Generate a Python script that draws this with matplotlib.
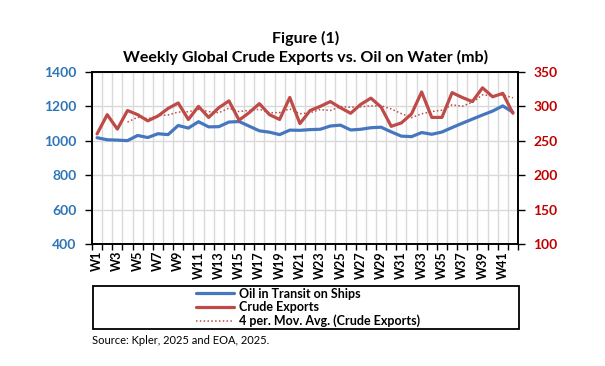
import numpy as np
import pandas as pd
import matplotlib
matplotlib.use('Agg')
import matplotlib.pyplot as plt
from matplotlib.patches import Rectangle
from matplotlib.ticker import FixedLocator, NullFormatter

plt.rcParams['font.family'] = ['Lato', 'DejaVu Sans']

# Data (W1..W42)
weeks = [f"W{i}" for i in range(1, 43)]
oil_in_transit = [1018, 1006, 1004, 1001, 1031, 1019, 1041, 1036, 1089, 1074,
                  1111, 1081, 1082, 1109, 1112, 1085, 1058, 1050, 1036, 1062,
                  1061, 1065, 1067, 1086, 1091, 1063, 1067, 1076, 1079, 1052,
                  1027, 1024, 1048, 1038, 1051, 1077, 1102, 1126, 1150, 1173,
                  1203, 1166]
crude_exports = [260, 288, 267, 294, 288, 279, 286, 297, 305, 281,
                 300, 284, 298, 308, 280, 291, 304, 288, 281, 313,
                 275, 294, 300, 307, 298, 290, 303, 312, 299, 271,
                 276, 289, 321, 284, 284, 320, 313, 307, 327, 314,
                 319, 290]
left_ticks = [400, 600, 800, 1000, 1200, 1400]
right_ticks = [100, 150, 200, 250, 300, 350]

BLUE = '#4677BE'
RED = '#BE4B48'
BLUE_TXT = '#2E75B6'
RED_TXT = '#C00000'

fig = plt.figure(figsize=(6.05, 3.66), dpi=100)
ax = fig.add_axes([92 / 605, 1 - 244 / 366, 426 / 605, 172 / 366])
ax2 = ax.twinx()

x = np.arange(len(weeks))
mov_avg = pd.Series(crude_exports).rolling(4).mean()

l1, = ax.plot(x, oil_in_transit, color=BLUE, lw=2.3, solid_capstyle='round', zorder=3)
l2, = ax2.plot(x, crude_exports, color=RED, lw=2.3, solid_capstyle='round', zorder=3)
l3, = ax2.plot(x, mov_avg, color=RED, lw=1.1, ls=(0, (1, 1.5)), zorder=2)

ax.set_xlim(-0.5, len(weeks) - 0.5)
ax.set_ylim(400, 1400)
ax2.set_ylim(100, 350)
ax.set_yticks(left_ticks)
ax2.set_yticks(right_ticks)

# labels at category centres, tick marks and grid at category boundaries
ax.xaxis.set_major_locator(FixedLocator(x[::2]))
ax.set_xticklabels(weeks[::2], rotation=90, fontsize=9, fontweight='bold')
ax.xaxis.set_minor_locator(FixedLocator(np.arange(-0.5, len(weeks), 1)))
ax.xaxis.set_minor_formatter(NullFormatter())
ax.tick_params(axis='x', which='major', length=0, pad=5)
ax.tick_params(axis='x', which='minor', length=4, width=1, color='black')
ax.grid(axis='x', which='minor', color='#D9D9D9', lw=1)
ax.grid(axis='y', which='major', color='#D9D9D9', lw=1)
ax.set_axisbelow(True)

ax.tick_params(axis='y', length=5, width=1, pad=6, labelsize=10, labelcolor=BLUE_TXT)
ax2.tick_params(axis='y', length=5, width=1, pad=6, labelsize=10, labelcolor=RED_TXT)
for lab in ax.get_yticklabels():
    lab.set_fontweight('bold')
for lab in ax2.get_yticklabels():
    lab.set_fontweight('bold')

for a in (ax, ax2):
    for s in a.spines.values():
        s.set_linewidth(1.2)
        s.set_color('black')

fig.text(0.505, 1 - 38 / 366, 'Figure (1)', ha='center', va='center',
         fontsize=11.5, fontweight='bold')
fig.text(0.505, 1 - 57 / 366, 'Weekly Global Crude Exports vs. Oil on Water (mb)',
         ha='center', va='center', fontsize=11.5, fontweight='bold')

# legend box
fig.patches.append(Rectangle((93 / 605, 1 - 329 / 366), 426 / 605, 43 / 366,
                             transform=fig.transFigure, fill=False,
                             edgecolor='black', lw=1.3))
fig.legend([l1, l2, l3],
           ['Oil in Transit on Ships', 'Crude Exports', '4 per. Mov. Avg. (Crude Exports)'],
           loc='center', bbox_to_anchor=(308 / 605, 1 - 307.5 / 366), frameon=False,
           prop={'size': 9, 'weight': 'bold'}, handlelength=3.0, handletextpad=0.4,
           labelspacing=0.12, borderpad=0)

fig.text(92 / 605, 1 - 340 / 366, 'Source: Kpler, 2025 and EOA, 2025.',
         ha='left', va='center', fontsize=8)

fig.savefig('out.png', dpi=100)
plt.close(fig)
